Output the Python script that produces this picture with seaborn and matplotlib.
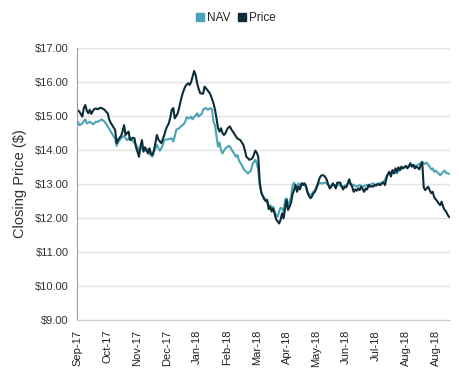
import numpy as np
import pandas as pd
import matplotlib
matplotlib.use("Agg")
import matplotlib.pyplot as plt
from matplotlib.lines import Line2D
import seaborn as sns

# ── Data (daily closes) ─────────────────────────────────────────────────
PRICE = [
    15.16, 15.13, 15.05, 14.98, 15.23, 15.32, 15.15, 15.08, 15.18, 15.06,
    15.14, 15.20, 15.22, 15.20, 15.21, 15.24, 15.23, 15.20, 15.18, 15.12,
    15.08, 14.90, 14.80, 14.73, 14.66, 14.59, 14.20, 14.30, 14.36, 14.41,
    14.55, 14.73, 14.44, 14.50, 14.54, 14.29, 14.32, 14.36, 14.34, 14.08,
    13.95, 13.80, 14.10, 14.29, 13.95, 14.08, 14.00, 13.90, 14.05, 13.90,
    13.85, 13.98, 14.20, 14.44, 14.31, 14.25, 14.20, 14.32, 14.44, 14.60,
    14.70, 14.78, 14.95, 15.18, 15.23, 14.93, 15.00, 15.08, 15.25, 15.45,
    15.62, 15.75, 15.86, 15.92, 15.96, 15.91, 16.00, 16.16, 16.32, 16.21,
    15.96, 15.80, 15.67, 15.66, 15.65, 15.86, 15.81, 15.75, 15.70, 15.62,
    15.50, 15.37, 15.18, 14.93, 14.64, 14.54, 14.64, 14.50, 14.44, 14.49,
    14.60, 14.66, 14.69, 14.60, 14.54, 14.47, 14.40, 14.34, 14.31, 14.29,
    14.22, 14.15, 14.00, 13.80, 13.76, 13.71, 13.73, 13.75, 13.85, 13.98,
    13.92, 13.80, 13.05, 12.75, 12.65, 12.55, 12.50, 12.53, 12.26, 12.33,
    12.19, 12.28, 12.12, 11.96, 11.90, 11.84, 11.95, 12.14, 11.99, 12.28,
    12.53, 12.24, 12.33, 12.45, 12.70, 12.82, 12.97, 12.77, 12.92, 12.84,
    13.02, 12.97, 13.02, 12.95, 12.75, 12.65, 12.58, 12.63, 12.73, 12.77,
    12.87, 13.02, 13.16, 13.24, 13.26, 13.25, 13.20, 13.12, 12.97, 12.87,
    12.92, 13.02, 12.97, 12.87, 13.04, 13.04, 13.04, 12.92, 12.84, 12.92,
    12.90, 13.00, 13.14, 13.00, 12.92, 12.77, 12.84, 12.80, 12.87, 12.82,
    12.92, 12.85, 12.77, 12.87, 12.84, 12.97, 12.92, 12.94, 12.92, 12.97,
    12.95, 13.00, 12.98, 12.97, 13.02, 13.04, 12.97, 13.17, 13.30, 13.36,
    13.22, 13.41, 13.31, 13.46, 13.36, 13.49, 13.41, 13.51, 13.46, 13.50,
    13.53, 13.46, 13.51, 13.61, 13.51, 13.56, 13.46, 13.51, 13.48, 13.43,
    13.56, 13.63, 12.90, 12.82, 12.87, 12.92, 12.82, 12.73, 12.77, 12.62,
    12.55, 12.50, 12.43, 12.38, 12.48, 12.33, 12.24, 12.19, 12.10, 12.03,
]

NAV = [
    14.83, 14.73, 14.75, 14.78, 14.85, 14.90, 14.78, 14.80, 14.83, 14.80,
    14.76, 14.78, 14.83, 14.82, 14.85, 14.87, 14.90, 14.86, 14.83, 14.76,
    14.69, 14.62, 14.55, 14.47, 14.40, 14.34, 14.12, 14.22, 14.29, 14.34,
    14.38, 14.41, 14.35, 14.29, 14.33, 14.37, 14.30, 14.25, 14.20, 14.15,
    14.08, 14.00, 14.03, 14.05, 14.00, 13.98, 14.00, 14.02, 13.88, 13.84,
    13.80, 13.95, 14.05, 14.15, 14.05, 13.98, 14.05, 14.15, 14.29, 14.30,
    14.31, 14.32, 14.33, 14.34, 14.25, 14.40, 14.59, 14.62, 14.64, 14.69,
    14.72, 14.76, 14.83, 14.96, 14.93, 14.93, 14.98, 14.90, 14.98, 15.00,
    15.08, 14.98, 15.03, 15.05, 15.18, 15.22, 15.23, 15.18, 15.20, 15.23,
    15.18, 14.83, 14.72, 14.40, 14.10, 14.22, 14.00, 13.90, 13.98, 14.05,
    14.08, 14.12, 14.10, 14.02, 13.95, 13.88, 13.80, 13.85, 13.70, 13.62,
    13.55, 13.45, 13.40, 13.36, 13.31, 13.35, 13.39, 13.56, 13.65, 13.71,
    13.61, 13.40, 12.97, 12.77, 12.65, 12.60, 12.55, 12.45, 12.35, 12.38,
    12.28, 12.33, 12.19, 12.09, 12.04, 12.20, 12.30, 12.28, 12.19, 12.53,
    12.58, 12.38, 12.48, 12.62, 12.95, 13.04, 12.95, 12.92, 13.02, 12.92,
    12.97, 13.02, 12.99, 12.90, 12.78, 12.70, 12.68, 12.71, 12.77, 12.82,
    12.92, 12.97, 13.04, 13.02, 13.02, 13.03, 13.04, 13.02, 12.97, 12.92,
    12.95, 12.98, 12.97, 12.93, 12.97, 12.98, 12.95, 12.93, 12.92, 12.95,
    12.97, 13.02, 13.04, 13.00, 12.98, 12.97, 12.95, 12.92, 12.95, 12.97,
    12.95, 12.92, 12.94, 12.96, 12.97, 12.98, 12.97, 13.00, 13.02, 13.00,
    12.97, 13.00, 13.02, 13.02, 13.05, 13.07, 13.12, 13.22, 13.28, 13.31,
    13.30, 13.34, 13.36, 13.33, 13.31, 13.38, 13.41, 13.44, 13.46, 13.48,
    13.50, 13.51, 13.54, 13.56, 13.55, 13.56, 13.54, 13.53, 13.56, 13.59,
    13.62, 13.66, 13.61, 13.59, 13.63, 13.56, 13.51, 13.43, 13.46, 13.36,
    13.39, 13.35, 13.31, 13.26, 13.31, 13.36, 13.39, 13.33, 13.31, 13.30,
]

MONTH_LABELS = ["Sep-17", "Oct-17", "Nov-17", "Dec-17", "Jan-18", "Feb-18",
                "Mar-18", "Apr-18", "May-18", "Jun-18", "Jul-18", "Aug-18",
                "Aug-18"]
LABEL_STEP = 20
Y_TICKS = [9, 10, 11, 12, 13, 14, 15, 16, 17]

COLORS = {"NAV": "#4aa3b6", "Price": "#0c2c38"}

# ── Build long-form table ───────────────────────────────────────────────
n = len(PRICE)
df = pd.concat([
    pd.DataFrame({"idx": np.arange(n), "value": NAV, "series": "NAV"}),
    pd.DataFrame({"idx": np.arange(n), "value": PRICE, "series": "Price"}),
])

sns.set_style("white")
plt.rcParams["font.family"] = ["Liberation Sans", "DejaVu Sans"]

fig = plt.figure(figsize=(4.59, 3.68), dpi=100)
ax = fig.add_axes([0.168, 0.130, 0.812, 0.740])

sns.lineplot(data=df, x="idx", y="value", hue="series", palette=COLORS,
             linewidth=1.5, legend=False, ax=ax)

ax.set_xlim(-0.5, n - 0.5)
ax.set_ylim(9, 17)
ax.set_yticks(Y_TICKS)
ax.set_yticklabels([f"${v:.2f}" for v in Y_TICKS], fontsize=8, color="#333333")
ax.yaxis.grid(True, color="#e3e3e3", linewidth=1)
ax.set_axisbelow(True)

major = np.arange(0, n, LABEL_STEP)
ax.set_xticks(major)
ax.set_xticklabels(MONTH_LABELS[:len(major)], rotation=90, fontsize=8,
                   color="#222222")
ax.set_xticks(np.arange(n), minor=True)
ax.tick_params(axis="x", which="both", length=4, color="#a0a0a0", width=0.6,
               pad=3)
ax.tick_params(axis="y", length=4, color="#a0a0a0", width=0.8, pad=2)

ax.set_xlabel("")
ax.set_ylabel("Closing Price ($)", fontsize=10.5, color="#333333", labelpad=6)

for side in ["top", "right"]:
    ax.spines[side].set_visible(False)
ax.spines["left"].set_color("#999999")
ax.spines["bottom"].set_color("#cccccc")

handles = [Line2D([], [], marker="s", linestyle="", color=COLORS[k],
                  markersize=6, label=k) for k in ["NAV", "Price"]]
fig.legend(handles=handles, loc="center", bbox_to_anchor=(0.512, 0.951),
           ncol=2, frameon=False, fontsize=8.5, handletextpad=0.1,
           columnspacing=0.5, handlelength=1.0)

fig.savefig("out.png", dpi=100)
